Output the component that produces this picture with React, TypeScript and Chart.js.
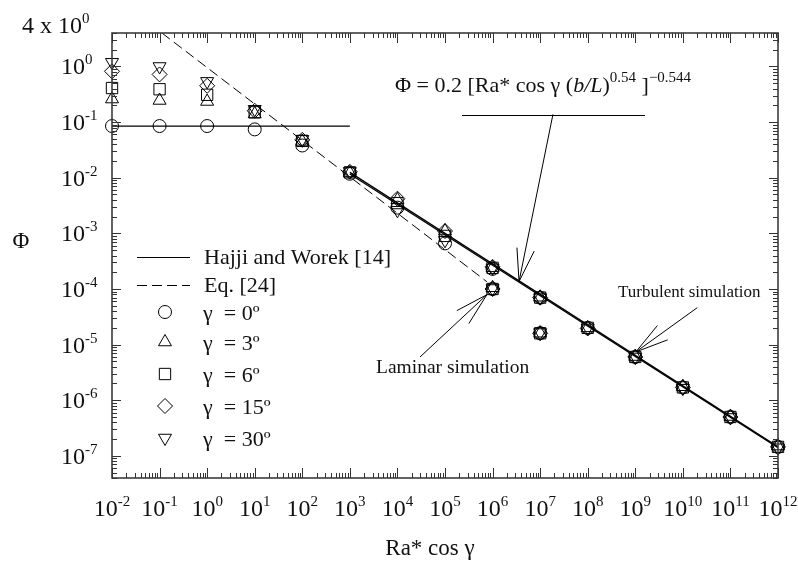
import React, { useEffect, useRef } from "react";
import { Chart, registerables } from "chart.js";

Chart.register(...registerables);

const WIDTH = 798;
const HEIGHT = 564;
const SERIF = '"Liberation Serif", "Times New Roman", serif';

// Ra* cos γ for every simulated case (1e6 and 1e7 appear twice: turbulent and laminar runs)
const raValues = [1e-2, 1e-1, 1, 1e1, 1e2, 1e3, 1e4, 1e5, 1e6, 1e6, 1e7, 1e7, 1e8, 1e9, 1e10, 1e11, 1e12];

// Φ for each inclination γ
const phiGamma0 = [0.085, 0.085, 0.085, 0.074, 0.038, 0.0118, 0.0029, 6.6e-4, 2.3e-4, 1.0e-4, 7.0e-5, 1.6e-5, 2.0e-5, 6.0e-6, 1.7e-6, 5.0e-7, 1.45e-7];
const phiGamma3 = [0.26, 0.245, 0.235, 0.14, 0.045, 0.0122, 0.0040, 1.1e-3, 2.4e-4, 1.05e-4, 7.1e-5, 1.6e-5, 2.0e-5, 6.1e-6, 1.75e-6, 5.1e-7, 1.5e-7];
const phiGamma6 = [0.41, 0.39, 0.31, 0.15, 0.046, 0.0125, 0.0035, 9.0e-4, 2.4e-4, 1.0e-4, 7.0e-5, 1.6e-5, 2.0e-5, 6.0e-6, 1.7e-6, 5.0e-7, 1.45e-7];
const phiGamma15 = [0.82, 0.72, 0.45, 0.16, 0.048, 0.0128, 0.0042, 1.1e-3, 2.5e-4, 1.0e-4, 7.0e-5, 1.6e-5, 1.95e-5, 6.0e-6, 1.7e-6, 5.0e-7, 1.45e-7];
const phiGamma30 = [1.19, 1.0, 0.54, 0.17, 0.049, 0.013, 0.0026, 7.5e-4, 2.4e-4, 1.02e-4, 7.0e-5, 1.65e-5, 2.0e-5, 6.0e-6, 1.65e-6, 4.9e-7, 1.4e-7];

const seriesLabels = ["γ  = 0º", "γ  = 3º", "γ  = 6º", "γ  = 15º", "γ  = 30º"];

// Hajji and Worek [14]: constant regime and its high-Ra branch
const hajjiRa = [1e-2, 1e3];
const hajjiPhi = [0.085, 0.085];
const hajjiBranchRa = [1e3, 1e12];
const hajjiBranchPhi = [0.0117, 1.4e-7];

// Φ = 0.2 [Ra* cos γ (b/L)^0.54]^-0.544
const correlationRa = [1e3, 1e12];
const correlationPhi = [0.0125, 1.45e-7];

// Eq. [24]
const eq24Ra = [0.112, 7.6e5];
const eq24Phi = [4, 1.35e-4];

// axis decades
const xTickExponents = [-2, -1, 0, 1, 2, 3, 4, 5, 6, 7, 8, 9, 10, 11, 12];
const yTickExponents = [0, -1, -2, -3, -4, -5, -6, -7];
const X_MIN = 1e-2;
const X_MAX = 1e12;
const Y_MIN = 4e-8;
const Y_MAX = 4;

// annotation arrows (tail -> tip) in data coordinates
const formulaArrow = { from: [1.86e7, 0.138], to: [3.6e6, 1.36e-4] };
const laminarArrow = { from: [2.99e4, 6.0e-6], to: [7.6e5, 7.9e-5] };
const turbulentArrow = { from: [2.0e10, 4.6e-5], to: [1.03e9, 7.4e-6] };

type MarkerSpec = { style: string; radius: number; rotation: number };
const markerSpecs: MarkerSpec[] = [
  { style: "circle", radius: 6.5, rotation: 0 },
  { style: "triangle", radius: 7.5, rotation: 0 },
  { style: "rect", radius: 8, rotation: 0 },
  { style: "rectRot", radius: 7.5, rotation: 0 },
  { style: "triangle", radius: 7.5, rotation: 180 },
];

const toPoints = (xs: number[], ys: number[]) => xs.map((x, i) => ({ x, y: ys[i] }));

function drawMarker(ctx: CanvasRenderingContext2D, m: MarkerSpec, x: number, y: number) {
  const r = m.radius;
  ctx.beginPath();
  if (m.style === "circle") {
    ctx.arc(x, y, r, 0, Math.PI * 2);
  } else if (m.style === "rect") {
    const h = r * Math.SQRT1_2;
    ctx.rect(x - h, y - h, 2 * h, 2 * h);
  } else if (m.style === "rectRot") {
    ctx.moveTo(x, y - r);
    ctx.lineTo(x + r, y);
    ctx.lineTo(x, y + r);
    ctx.lineTo(x - r, y);
    ctx.closePath();
  } else {
    const s = m.rotation ? -1 : 1;
    const dx = r * Math.sin((2 * Math.PI) / 3);
    ctx.moveTo(x, y - s * r);
    ctx.lineTo(x + dx, y + s * r * 0.5);
    ctx.lineTo(x - dx, y + s * r * 0.5);
    ctx.closePath();
  }
  ctx.stroke();
}

type Run = { t: string; size: number; italic?: boolean; rise?: number };

function drawRuns(ctx: CanvasRenderingContext2D, runs: Run[], x: number, y: number, align: "left" | "center" = "left") {
  const widths = runs.map((r) => {
    ctx.font = `${r.italic ? "italic " : ""}${r.size}px ${SERIF}`;
    return ctx.measureText(r.t).width;
  });
  const total = widths.reduce((a, b) => a + b, 0);
  let cx = align === "center" ? x - total / 2 : x;
  ctx.textAlign = "left";
  ctx.textBaseline = "alphabetic";
  runs.forEach((r, i) => {
    ctx.font = `${r.italic ? "italic " : ""}${r.size}px ${SERIF}`;
    ctx.fillText(r.t, cx, y - (r.rise || 0));
    cx += widths[i];
  });
}

const power = (exp: number): Run[] => [
  { t: "10", size: 24 },
  { t: String(exp), size: 15, rise: 10 },
];

function drawArrow(ctx: CanvasRenderingContext2D, chart: any, a: { from: number[]; to: number[] }) {
  const xs = chart.scales.x;
  const ys = chart.scales.y;
  const x0 = xs.getPixelForValue(a.from[0]);
  const y0 = ys.getPixelForValue(a.from[1]);
  const x1 = xs.getPixelForValue(a.to[0]);
  const y1 = ys.getPixelForValue(a.to[1]);
  const ang = Math.atan2(y0 - y1, x0 - x1);
  const spread = (15 * Math.PI) / 180;
  const len = 34;
  ctx.beginPath();
  ctx.moveTo(x0, y0);
  ctx.lineTo(x1, y1);
  ctx.moveTo(x1 + Math.cos(ang - spread) * len, y1 + Math.sin(ang - spread) * len);
  ctx.lineTo(x1, y1);
  ctx.lineTo(x1 + Math.cos(ang + spread) * len, y1 + Math.sin(ang + spread) * len);
  ctx.stroke();
}

const framePlugin = {
  id: "frameAndNotes",
  afterDraw(chart: any) {
    const { ctx, chartArea: a } = chart;
    const xs = chart.scales.x;
    const ys = chart.scales.y;
    ctx.save();

    // plot frame
    ctx.strokeStyle = "#3c3c3c";
    ctx.lineWidth = 1.6;
    ctx.strokeRect(a.left, a.top, a.right - a.left, a.bottom - a.top);

    // inward ticks on all four sides
    ctx.lineWidth = 1;
    ctx.strokeStyle = "#333";
    ctx.beginPath();
    for (let e = -2; e <= 12; e++) {
      for (let m = 1; m <= 9; m++) {
        const v = m * Math.pow(10, e);
        if (v > X_MAX * 1.0001) continue;
        const px = Math.round(xs.getPixelForValue(v)) + 0.5;
        const len = m === 1 ? 10 : 5;
        ctx.moveTo(px, a.bottom);
        ctx.lineTo(px, a.bottom - len);
        ctx.moveTo(px, a.top);
        ctx.lineTo(px, a.top + len);
      }
    }
    for (let e = -8; e <= 0; e++) {
      for (let m = 1; m <= 9; m++) {
        const v = m * Math.pow(10, e);
        if (v < Y_MIN * 0.9999 || v > Y_MAX * 1.0001) continue;
        const py = Math.round(ys.getPixelForValue(v)) + 0.5;
        const len = m === 1 ? 9 : 5;
        ctx.moveTo(a.left, py);
        ctx.lineTo(a.left + len, py);
        ctx.moveTo(a.right, py);
        ctx.lineTo(a.right - len, py);
      }
    }
    ctx.stroke();

    // tick labels
    ctx.fillStyle = "#111";
    xTickExponents.forEach((e) => {
      drawRuns(ctx, power(e), xs.getPixelForValue(Math.pow(10, e)), 516, "center");
    });
    yTickExponents.forEach((e) => {
      drawRuns(ctx, power(e), 61, ys.getPixelForValue(Math.pow(10, e)) + 8);
    });
    drawRuns(ctx, [{ t: "4 x 10", size: 24 }, { t: "0", size: 15, rise: 10 }], 22, 33);

    // axis titles
    drawRuns(ctx, [{ t: "Ra* cos γ", size: 23 }], 430, 555, "center");
    drawRuns(ctx, [{ t: "Φ", size: 23 }], 21, 248, "center");

    // legend
    ctx.strokeStyle = "#000";
    ctx.lineWidth = 1;
    ctx.beginPath();
    ctx.moveTo(137, 257.5);
    ctx.lineTo(190, 257.5);
    ctx.stroke();
    ctx.setLineDash([10, 5]);
    ctx.beginPath();
    ctx.moveTo(137, 285.5);
    ctx.lineTo(190, 285.5);
    ctx.stroke();
    ctx.setLineDash([]);
    drawRuns(ctx, [{ t: "Hajji and Worek [14]", size: 22 }], 204, 264);
    drawRuns(ctx, [{ t: "Eq. [24]", size: 22 }], 204, 292);
    const legendY = [312, 342, 374, 406, 438];
    markerSpecs.forEach((m, i) => {
      drawMarker(ctx, m, 165, legendY[i]);
      drawRuns(ctx, [{ t: seriesLabels[i], size: 22 }], 203, legendY[i] + 8);
    });

    // correlation annotation
    drawRuns(
      ctx,
      [
        { t: "Φ = 0.2 [Ra* cos γ (", size: 22 },
        { t: "b/L", size: 22, italic: true },
        { t: ")", size: 22 },
        { t: "0.54", size: 15, rise: 10 },
        { t: " ]", size: 22 },
        { t: "−0.544", size: 15, rise: 10 },
      ],
      395,
      92
    );
    ctx.beginPath();
    ctx.moveTo(462, 115.5);
    ctx.lineTo(645, 115.5);
    ctx.stroke();
    drawArrow(ctx, chart, formulaArrow);

    drawRuns(ctx, [{ t: "Turbulent simulation", size: 17 }], 618, 297);
    drawArrow(ctx, chart, turbulentArrow);
    drawRuns(ctx, [{ t: "Laminar simulation", size: 19.5 }], 376, 373);
    drawArrow(ctx, chart, laminarArrow);

    ctx.restore();
  },
};

export default function App() {
  const canvasRef = useRef<HTMLCanvasElement | null>(null);

  useEffect(() => {
    const canvas = canvasRef.current;
    if (!canvas) return;
    const seriesPhi = [phiGamma0, phiGamma3, phiGamma6, phiGamma15, phiGamma30];
    const markerSets = seriesPhi.map((phi, i) => ({
      label: seriesLabels[i],
      data: toPoints(raValues, phi),
      showLine: false,
      pointStyle: markerSpecs[i].style,
      pointRadius: markerSpecs[i].radius,
      pointRotation: markerSpecs[i].rotation,
      pointBorderColor: "#000",
      pointBackgroundColor: "rgba(0,0,0,0)",
      pointBorderWidth: 1,
      borderColor: "#000",
      backgroundColor: "rgba(0,0,0,0)",
      clip: false as any,
    }));
    const lineSet = (label: string, xs: number[], ys: number[], dash: number[] = [], width = 1.2) => ({
      label,
      data: toPoints(xs, ys),
      showLine: true,
      pointRadius: 0,
      borderColor: "#000",
      borderWidth: width,
      borderDash: dash,
      backgroundColor: "rgba(0,0,0,0)",
    });

    const chart = new Chart(canvas, {
      type: "scatter",
      data: {
        datasets: [
          ...markerSets,
          lineSet("Hajji and Worek [14]", hajjiRa, hajjiPhi, [], 1.3),
          lineSet("Hajji and Worek [14] branch", hajjiBranchRa, hajjiBranchPhi, [], 1.3),
          lineSet("Correlation", correlationRa, correlationPhi, [], 1.3),
          lineSet("Eq. [24]", eq24Ra, eq24Phi, [10, 5], 1),
        ] as any,
      },
      options: {
        animation: false,
        responsive: false,
        devicePixelRatio: 1,
        layout: { padding: { left: 112, right: 20, top: 33, bottom: 86 } },
        plugins: { legend: { display: false }, tooltip: { enabled: false }, title: { display: false } },
        events: [],
        scales: {
          x: { type: "logarithmic", min: X_MIN, max: X_MAX, display: false },
          y: { type: "logarithmic", min: Y_MIN, max: Y_MAX, display: false },
        },
      },
      plugins: [framePlugin],
    });
    return () => chart.destroy();
  }, []);

  return (
    <div style={{ position: "absolute", left: 0, top: 0, width: WIDTH, height: HEIGHT, background: "#fff" }}>
      <canvas ref={canvasRef} width={WIDTH} height={HEIGHT} style={{ display: "block" }} />
    </div>
  );
}
